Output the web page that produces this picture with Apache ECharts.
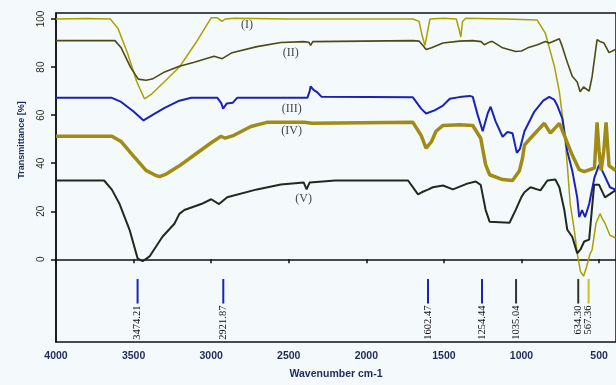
<!DOCTYPE html>
<html>
<head>
<meta charset="utf-8">
<script src="https://cdn.jsdelivr.net/npm/echarts@6/dist/echarts.min.js"></script>
<style>
  html, body { margin: 0; padding: 0; background: #f4f9fc; }
  #chart { width: 616px; height: 385px; }
</style>
</head>
<body>
<div id="chart"></div>
<script>
// FTIR spectra, [wavenumber, transmittance %]
const curveI = [[4000,100],[3800,100.2],[3650,100],[3600,96],[3540,86],[3480,74],[3430,66.8],[3380,69],[3300,74],[3205,80],[3100,90],[3000,100.5],[2960,100.5],[2930,99],[2910,100],[2850,100.3],[2500,100],[2360,100],[2350,99.2],[2340,100],[1700,100],[1660,99],[1640,93],[1622,89],[1605,95],[1590,100],[1500,100.3],[1420,100],[1400,95],[1391,92.5],[1380,99],[1360,100.3],[1100,100],[900,99.6],[846,94],[788,80.3],[756,69.7],[724,53.3],[705,39.3],[686,23],[660,12.3],[641,2.5],[620,-5],[600,-7],[580,-3],[560,2],[545,4],[520,15],[494,19],[480,17],[462,15],[430,10],[395,9]];
const curveII = [[4000,91],[3620,91],[3580,88],[3520,80],[3470,75],[3420,74.5],[3380,75],[3300,78],[3205,80.3],[3109,82],[2981,84.5],[2929,83.5],[2865,86],[2705,88.5],[2551,90.2],[2404,90.6],[2370,90.3],[2359,89],[2345,90.6],[1700,91],[1660,90.8],[1635,89],[1615,87.3],[1580,88],[1506,90],[1400,90.8],[1314,91],[1260,90.6],[1240,89.3],[1200,90.6],[1186,90.6],[1122,88],[1038,86.5],[1000,86.7],[960,88],[897,89.3],[846,90.6],[820,90],[756,91.8],[737,88.5],[705,82],[673,76.2],[641,73.8],[622,69.7],[600,71.7],[564,70],[545,76],[513,91.4],[490,90.5],[468,90],[436,86],[395,87.3]];
const curveIII = [[4000,67.2],[3640,67.2],[3580,65.5],[3500,61.5],[3436,57.8],[3380,60],[3300,63],[3205,66],[3128,67.2],[2960,67.2],[2935,65],[2923,62.7],[2900,64.8],[2860,65.2],[2833,67.2],[2380,67.2],[2365,70],[2359,72],[2340,70.5],[2320,69.7],[2288,67.6],[1700,67.4],[1647,62.7],[1615,60.7],[1603,60.2],[1560,62],[1506,64],[1462,66.8],[1400,67.5],[1333,68],[1314,67.6],[1282,60],[1250,53.3],[1218,60.7],[1199,63.5],[1167,57.4],[1122,51],[1090,53],[1058,52.5],[1030,44.3],[1010,46],[981,53.3],[917,61.5],[860,66],[821,67.6],[790,66.5],[769,64],[737,58.6],[705,45],[673,36.9],[641,25.8],[628,17.6],[610,20.5],[590,17.6],[564,23],[530,34],[500,39.3],[480,36.9],[430,30],[395,29]];
const curveIV = [[4000,51.2],[3640,51.2],[3580,49],[3506,43.4],[3420,37],[3353,34.8],[3333,34.4],[3290,35.5],[3205,38.9],[3109,43.4],[3000,48.5],[2936,51.2],[2910,50.4],[2853,51.6],[2744,55.3],[2641,57],[2400,57],[2350,56.6],[1700,57],[1647,51.6],[1615,46.3],[1603,45.5],[1580,49],[1551,53.3],[1506,55.7],[1400,56],[1314,55.7],[1263,50.4],[1231,39.3],[1205,35.2],[1122,33.2],[1058,32.8],[1013,36.9],[994,42],[981,47.5],[942,50.4],[853,56.6],[814,52.5],[756,56.6],[724,51.6],[673,43.4],[628,37.3],[596,36.5],[530,38],[513,57],[500,45],[487,37],[470,45],[455,57],[436,39],[395,37]];
const curveV = [[4000,32.8],[3690,32.8],[3640,29],[3590,23],[3526,12.3],[3474,0.4],[3442,-0.8],[3397,1.2],[3314,9.4],[3237,14.8],[3205,18.9],[3173,20.5],[3064,23],[3000,25],[2949,23],[2897,25.8],[2705,29.1],[2551,31.1],[2404,32],[2385,29.1],[2365,32],[2200,32.8],[1731,32.8],[1667,27],[1640,28],[1603,29],[1571,30],[1506,30.7],[1442,29.1],[1350,31.5],[1295,32.4],[1263,31],[1231,20.5],[1205,15.6],[1077,15.2],[1038,20.5],[1000,26],[981,27.9],[942,30],[878,28.7],[833,32.8],[782,33.2],[756,30],[724,20.5],[705,12.3],[673,9.4],[641,2.5],[620,4.1],[596,7.4],[564,8.2],[532,31],[500,31],[462,25.8],[395,28.7]];

const curveNames = ['(I)', '(II)', '(III)', '(IV)', '(V)'];
const curveLabelAt = [[2769,97.5],[2487,86],[2481,62.7],[2481,53.3],[2404,25]];
const peakWn = [3474.21, 2921.87, 1602.47, 1254.44, 1035.04, 634.30, 567.36];
const peakColor = ['#1a22b8','#1a22b8','#1a22b8','#1a22b8','#333333','#333333','#c8c028'];
const xTicks = [4000, 3500, 3000, 2500, 2000, 1500, 1000, 500];
const yTicks = [0, 20, 40, 60, 80, 100];

const chart = echarts.init(document.getElementById('chart'));

function spec(data, color, width) {
  return {
    type: 'line', data: data, showSymbol: false, symbol: 'none',
    lineStyle: { color: color, width: width }, z: 3
  };
}

const option = {
  animation: false,
  backgroundColor: '#f4f9fc',
  grid: {
    left: 56, right: -3, top: 13, bottom: 38,
    show: true, borderColor: '#111', borderWidth: 1.5
  },
  xAxis: {
    type: 'value', inverse: true, min: 391, max: 4000,
    name: 'Wavenumber cm-1', nameLocation: 'middle', nameGap: 27,
    nameTextStyle: { color: '#1c2a5c', fontSize: 10.5, fontWeight: 'bold', fontFamily: 'Arial' },
    axisLine: { show: true, lineStyle: { color: '#111', width: 1.5 } },
    axisTick: { show: true, length: 4, customValues: xTicks, lineStyle: { color: '#111', width: 1.5 } },
    axisLabel: { customValues: xTicks, formatter: v => String(v), color: '#1c2a5c', fontSize: 10.5,
      fontWeight: 'bold', fontFamily: 'Arial', margin: 9 },
    splitLine: { show: false }
  },
  yAxis: {
    type: 'value', min: -34.4, max: 102.5,
    axisLine: { show: true, lineStyle: { color: '#111', width: 1.5 } },
    axisTick: { show: true, length: 5, customValues: yTicks, lineStyle: { color: '#111', width: 1.5 } },
    axisLabel: { customValues: yTicks, formatter: v => String(v), rotate: 90, color: '#2a2a20', fontSize: 10,
      fontFamily: 'Arial', margin: 10 },
    splitLine: { show: false }
  },
  graphic: [{
    type: 'text', x: 22, y: 140, rotation: Math.PI / 2,
    style: { text: 'Transmittance [%]', fill: '#1c2a5c', font: 'bold 9px Arial', align: 'center', verticalAlign: 'middle' }
  }],
  series: [
    spec(curveI, '#aaa000', 1.5),
    spec(curveII, '#4b4b14', 1.6),
    spec(curveIII, '#1a22b8', 2),
    spec(curveIV, '#a08c14', 3.5),
    spec(curveV, '#1e2a1e', 2),
    {
      type: 'scatter', symbolSize: 0, z: 5,
      data: curveNames.map((n, i) => ({ name: n, value: curveLabelAt[i] })),
      label: {
        show: true, position: 'inside', formatter: p => p.name,
        color: '#111', fontSize: 12, fontFamily: '"Liberation Serif", serif'
      }
    },
    {
      type: 'custom', z: 4,
      data: peakWn.map(v => [v, -10]),
      renderItem: function (params, api) {
        const i = params.dataIndex;
        const top = api.coord([api.value(0), -8.2]);
        const bot = api.coord([api.value(0), -18.4]);
        return {
          type: 'group',
          children: [
            { type: 'line', shape: { x1: top[0], y1: top[1], x2: bot[0], y2: bot[1] },
              style: { stroke: peakColor[i], lineWidth: 2 } },
            { type: 'text', x: bot[0], y: bot[1] + 2, rotation: Math.PI / 2,
              style: { text: peakWn[i].toFixed(2), fill: '#111', align: 'right', verticalAlign: 'middle',
                font: '10.5px "Liberation Serif"' } }
          ]
        };
      }
    }
  ]
};
chart.setOption(option);
</script>
</body>
</html>
